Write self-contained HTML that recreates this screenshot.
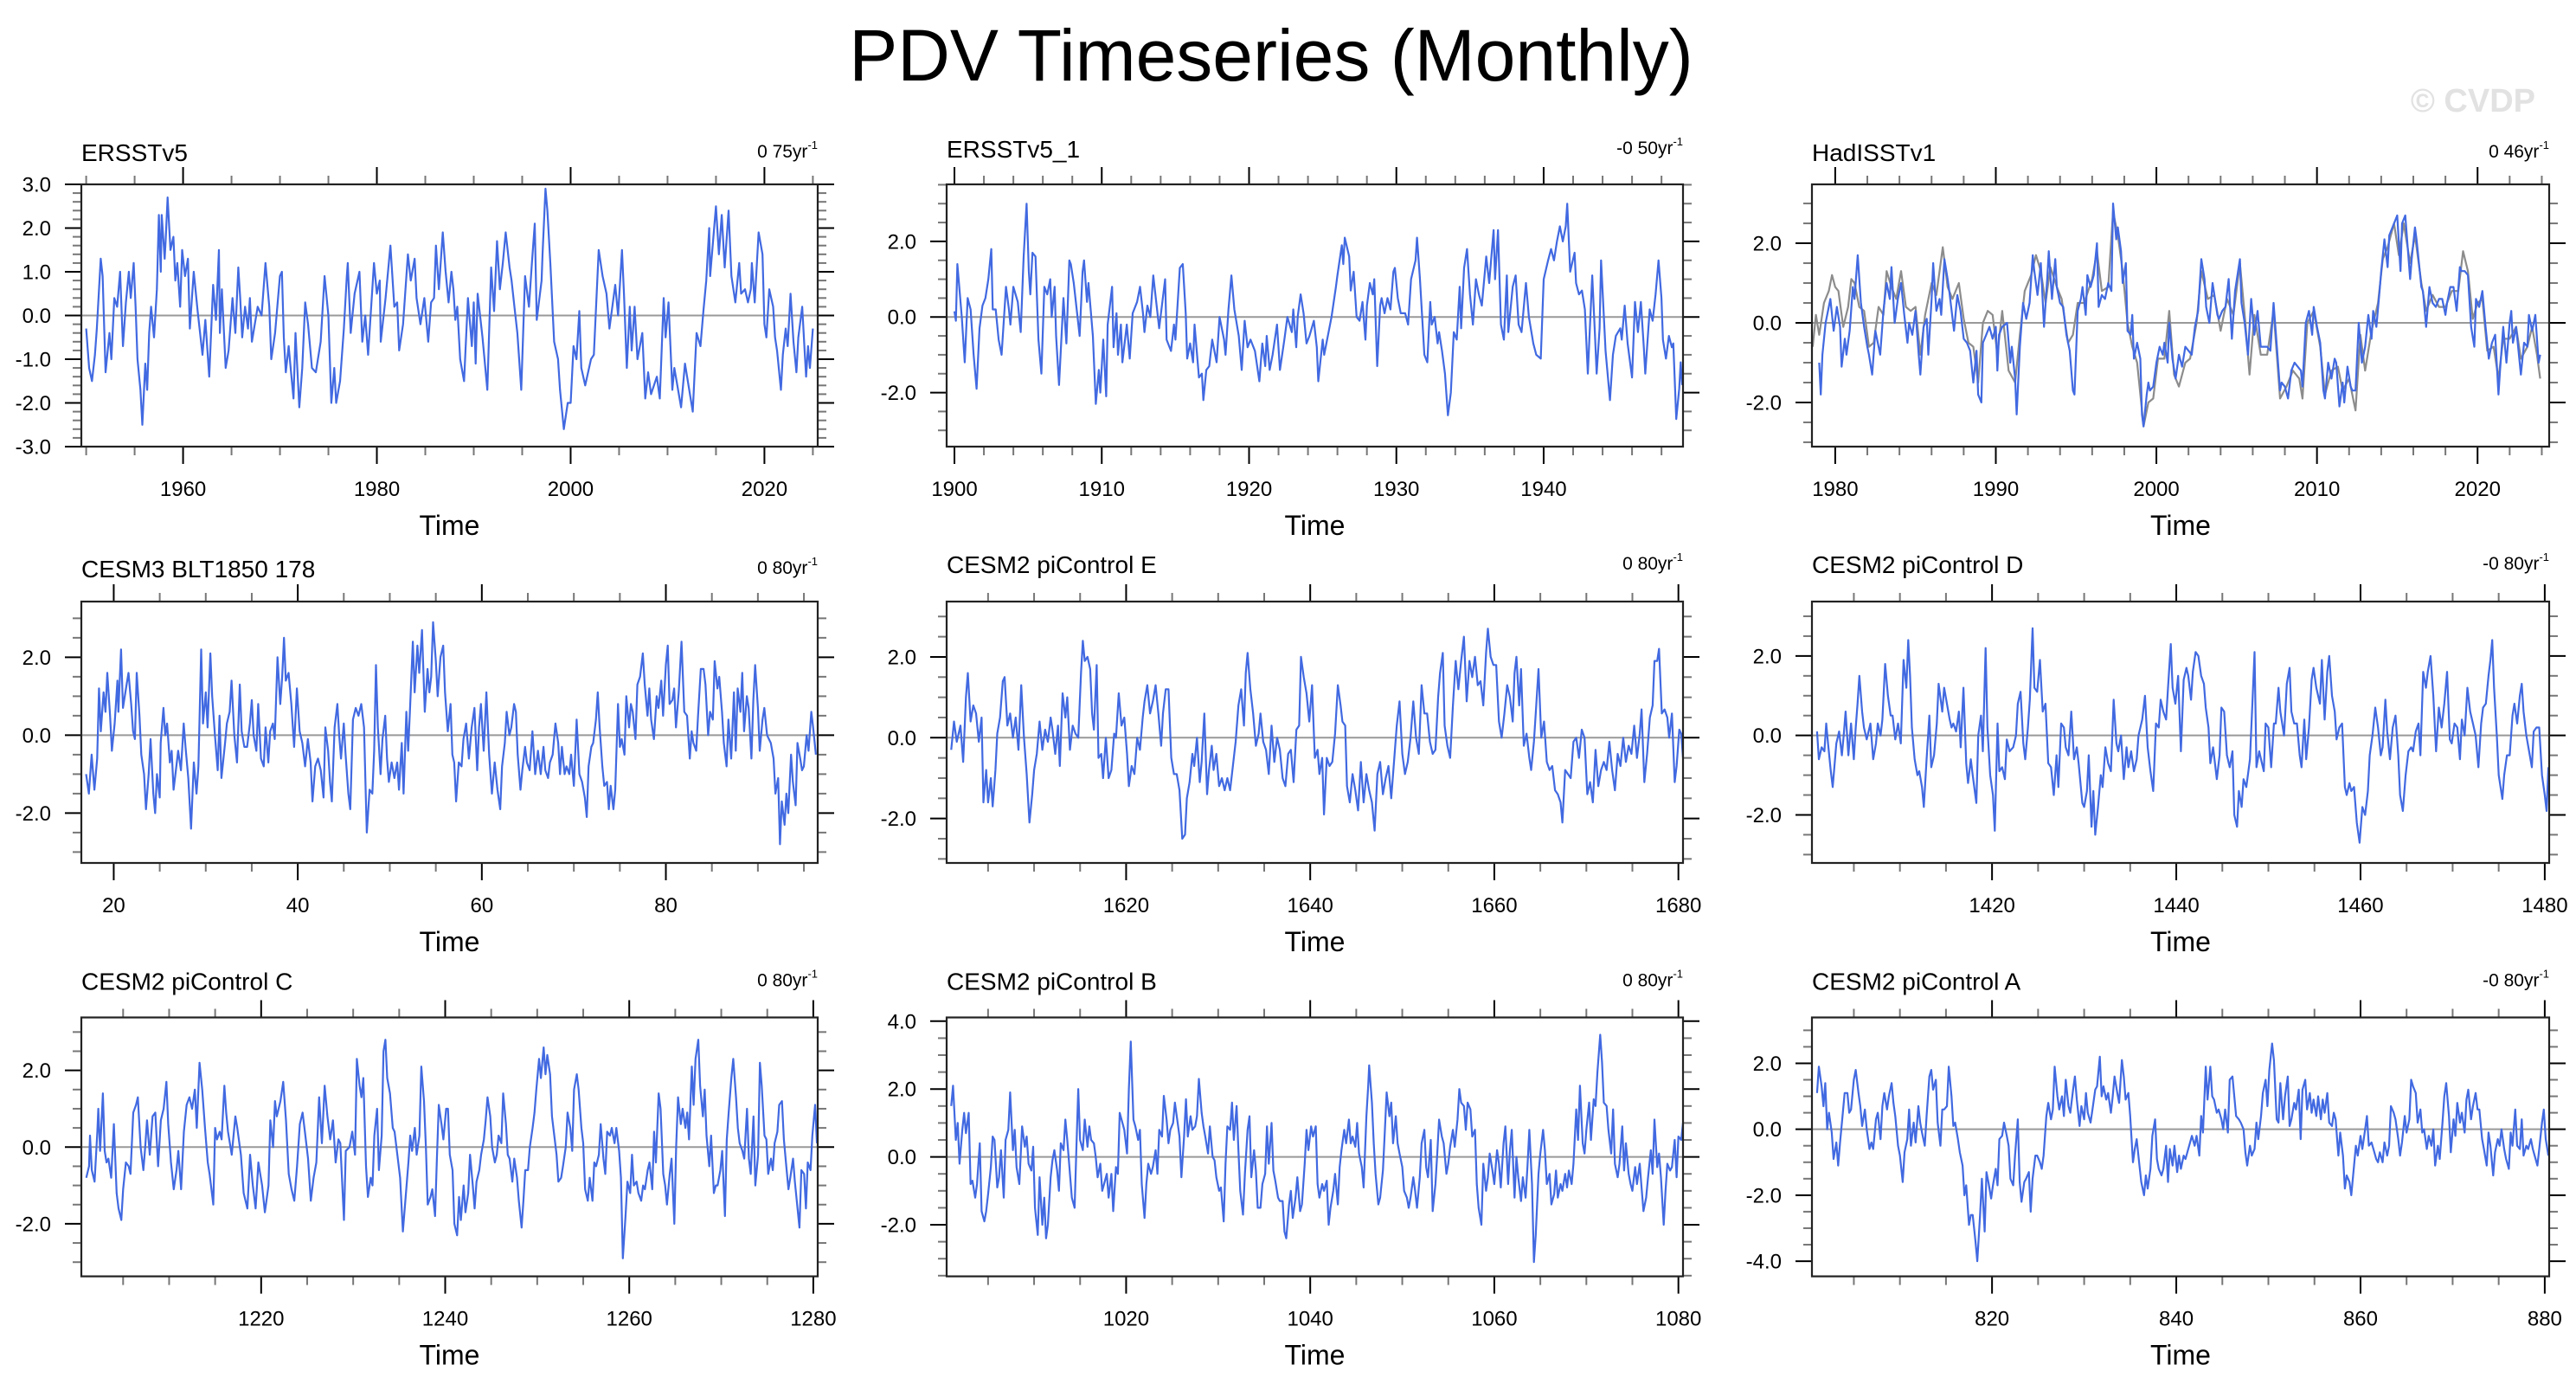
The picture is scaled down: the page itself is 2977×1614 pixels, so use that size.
<!DOCTYPE html>
<html><head><meta charset="utf-8"><title>PDV Timeseries (Monthly)</title>
<style>
html,body{margin:0;padding:0;background:#fff;}
svg{display:block;font-family:"Liberation Sans",Arial,sans-serif;}
</style></head>
<body>
<svg id="fig" width="2977" height="1614" viewBox="0 0 2977 1614" xmlns="http://www.w3.org/2000/svg">
<rect x="0" y="0" width="2977" height="1614" fill="#fff"/>
<text x="1469" y="93" font-size="84" text-anchor="middle" fill="#000">PDV Timeseries (Monthly)</text>
<text x="2930" y="129" font-size="38" font-weight="bold" text-anchor="end" fill="#e2e2e2">© CVDP</text>
<g id="panels"></g>
</svg>
<script>
// ---- Panel 1: ERSSTv5 ----
const ersstTimes = [1950.0,1950.3,1950.6,1950.9,1951.1,1951.5,1951.7,1952.0,1952.4,1952.6,1952.9,1953.2,1953.5,1953.8,1954.1,1954.4,1954.6,1954.9,1955.1,1955.3,1955.6,1955.8,1956.1,1956.3,1956.5,1956.7,1957.0,1957.3,1957.5,1957.7,1957.8,1958.1,1958.2,1958.4,1958.7,1959.0,1959.2,1959.4,1959.7,1959.9,1960.2,1960.5,1960.7,1961.1,1961.5,1962.0,1962.3,1962.7,1963.1,1963.4,1963.7,1963.8,1964.0,1964.4,1964.7,1965.1,1965.4,1965.7,1965.9,1966.1,1966.4,1966.7,1966.9,1967.1,1967.7,1968.1,1968.5,1968.9,1969.1,1969.5,1970.0,1970.2,1970.4,1970.6,1970.9,1971.1,1971.4,1971.6,1972.0,1972.3,1972.6,1972.9,1973.3,1973.7,1974.2,1974.6,1975.0,1975.3,1975.6,1975.8,1976.2,1976.6,1976.9,1977.0,1977.3,1977.7,1978.2,1978.5,1978.8,1979.1,1979.7,1980.0,1980.3,1980.4,1980.9,1981.4,1981.8,1982.1,1982.3,1982.7,1983.2,1983.5,1983.9,1984.1,1984.5,1984.9,1985.3,1985.6,1985.9,1986.1,1986.4,1986.8,1987.1,1987.4,1987.7,1987.9,1988.1,1988.3,1988.6,1989.0,1989.4,1989.8,1990.0,1990.2,1990.4,1990.9,1991.4,1991.8,1992.1,1992.4,1992.7,1993.0,1993.3,1993.7,1993.9,1994.2,1994.5,1994.9,1995.3,1995.7,1996.0,1996.3,1996.5,1997.0,1997.1,1997.4,1997.6,1997.9,1998.3,1998.7,1998.9,1999.3,1999.7,2000.0,2000.3,2000.6,2000.9,2001.1,2001.5,2002.1,2002.4,2002.9,2003.3,2003.7,2004.0,2004.6,2004.9,2005.3,2005.5,2005.8,2006.1,2006.3,2006.6,2006.9,2007.4,2007.7,2008.0,2008.3,2008.9,2009.2,2009.6,2009.8,2010.1,2010.5,2010.7,2011.4,2011.8,2012.6,2013.0,2013.4,2013.7,2014.0,2014.3,2014.4,2015.0,2015.3,2015.6,2015.9,2016.3,2016.6,2017.0,2017.4,2017.6,2018.0,2018.3,2018.6,2018.7,2019.0,2019.4,2019.8,2020.0,2020.2,2020.5,2020.9,2021.1,2021.3,2021.7,2021.9,2022.2,2022.4,2022.7,2023.0,2023.3,2023.5,2023.9,2024.1,2024.3,2024.5,2024.7,2025.0];
const ersstValues = [-0.3,-1.2,-1.5,-0.9,-0.3,1.3,0.9,-1.3,-0.4,-1.0,0.4,0.2,1.0,-0.7,0.3,1.0,0.4,1.2,0.2,-1.0,-1.7,-2.5,-1.1,-1.7,-0.4,0.2,-0.5,0.6,2.3,1.0,2.3,1.3,1.7,2.7,1.5,1.8,0.8,1.2,0.2,1.5,0.9,1.3,-0.3,1.0,0.1,-0.9,-0.1,-1.4,0.7,-0.1,1.5,-0.4,0.6,-1.2,-0.8,0.4,-0.4,1.1,0.4,-0.5,0.2,-0.3,0.4,-0.6,0.2,0.0,1.2,0.2,-1.0,-0.4,0.9,1.0,-0.5,-1.3,-0.7,-1.2,-1.9,-0.4,-2.1,-1.2,0.3,-0.2,-1.2,-1.3,-0.6,0.9,0.0,-2.0,-1.2,-2.0,-1.5,-0.3,0.9,1.2,-0.4,0.5,1.0,-0.6,0.0,-0.9,1.2,0.5,0.8,-0.6,0.4,1.6,0.2,0.3,-0.8,-0.2,1.4,0.8,1.3,0.4,-0.2,0.4,-0.6,0.3,0.4,1.6,0.6,1.9,1.0,0.3,1.0,0.6,-0.1,0.2,-1.0,-1.5,0.4,-0.7,0.3,-1.1,0.5,-0.5,-1.7,1.1,0.1,1.7,0.6,1.2,1.9,1.1,0.8,0.2,-0.4,-1.7,0.9,0.2,1.2,2.1,-0.1,0.8,1.4,2.9,2.4,1.2,-0.6,-1.0,-1.7,-2.6,-2.0,-2.0,-0.7,-1.0,0.1,-1.2,-1.6,-1.0,-0.9,1.5,0.9,0.5,-0.3,0.7,0.0,1.5,0.5,-1.2,0.2,-0.8,0.2,-1.0,-0.4,-1.9,-1.3,-1.8,-1.4,-1.9,0.4,-0.5,0.3,-1.7,-1.2,-2.1,-1.1,-2.2,-0.4,-0.7,0.1,0.8,2.0,0.9,2.5,1.4,2.3,1.1,2.4,0.9,0.3,1.2,0.5,0.6,0.3,0.6,1.2,0.3,1.9,1.4,-0.2,-0.5,0.6,0.2,-0.5,-0.8,-1.7,-0.9,-0.3,-0.7,0.5,-0.6,-1.3,-0.5,0.2,-0.6,-1.4,-0.7,-1.2,-0.3];

// ---- Panel 2: ERSSTv5_1 ----
const ersst1Times = [1900.0,1900.1,1900.2,1900.5,1900.7,1900.9,1901.1,1901.3,1901.5,1901.7,1901.9,1902.1,1902.3,1902.5,1902.6,1902.8,1903.0,1903.2,1903.5,1903.7,1903.8,1904.0,1904.3,1904.5,1904.7,1904.9,1905.05,1905.15,1905.3,1905.5,1905.7,1905.9,1906.1,1906.3,1906.5,1906.6,1906.8,1906.9,1907.1,1907.4,1907.6,1907.8,1907.9,1908.1,1908.3,1908.5,1908.7,1908.8,1909.0,1909.1,1909.4,1909.6,1909.8,1909.9,1910.1,1910.3,1910.4,1910.7,1910.8,1911.0,1911.1,1911.3,1911.4,1911.7,1911.9,1912.1,1912.4,1912.6,1912.8,1912.9,1913.1,1913.3,1913.5,1913.7,1913.9,1914.3,1914.4,1914.7,1914.9,1915.0,1915.3,1915.5,1915.7,1915.8,1916.0,1916.2,1916.3,1916.6,1916.8,1916.9,1917.1,1917.3,1917.5,1917.8,1918.0,1918.3,1918.4,1918.6,1918.8,1919.0,1919.3,1919.5,1919.7,1919.9,1920.1,1920.4,1920.7,1920.9,1921.1,1921.2,1921.4,1921.6,1921.9,1922.1,1922.4,1922.6,1922.9,1923.0,1923.2,1923.3,1923.5,1923.7,1923.9,1924.1,1924.4,1924.6,1924.7,1925.0,1925.1,1925.4,1925.6,1925.9,1926.0,1926.3,1926.4,1926.5,1926.8,1926.9,1927.1,1927.3,1927.5,1927.7,1927.9,1928.0,1928.2,1928.4,1928.5,1928.7,1928.9,1929.0,1929.2,1929.4,1929.6,1929.8,1929.9,1930.1,1930.3,1930.6,1930.8,1931.0,1931.3,1931.4,1931.6,1931.9,1932.1,1932.3,1932.4,1932.6,1932.8,1932.9,1933.1,1933.3,1933.5,1933.7,1933.9,1934.1,1934.3,1934.4,1934.6,1934.8,1935.0,1935.2,1935.4,1935.6,1935.8,1936.1,1936.3,1936.6,1936.7,1936.9,1937.1,1937.3,1937.5,1937.6,1937.9,1938.1,1938.3,1938.5,1938.8,1939.0,1939.3,1939.5,1939.8,1940.0,1940.3,1940.5,1940.7,1940.9,1941.1,1941.3,1941.5,1941.6,1941.8,1942.1,1942.2,1942.4,1942.6,1942.8,1943.0,1943.3,1943.5,1943.6,1943.8,1943.9,1944.2,1944.5,1944.7,1944.9,1945.2,1945.3,1945.5,1945.7,1946.0,1946.2,1946.4,1946.6,1946.8,1946.9,1947.2,1947.4,1947.6,1947.8,1948.0,1948.1,1948.3,1948.5,1948.7,1948.8,1949.0,1949.2,1949.3,1949.4];
const ersst1Values = [0.15,-0.1,1.4,0.0,-1.2,0.5,0.2,-1.0,-1.9,-0.3,0.3,0.5,1.0,1.8,0.2,0.2,-0.6,-1.0,0.8,0.2,-0.2,0.8,0.4,-0.4,1.6,3.0,1.2,0.6,1.7,1.6,-0.6,-1.5,0.8,0.6,1.0,0.0,0.8,-0.5,-1.8,0.5,-0.7,1.5,1.4,0.9,0.2,-0.5,1.2,1.5,0.4,0.9,-0.5,-2.3,-1.4,-2.0,-0.6,-2.1,-0.2,0.8,-0.8,0.1,-1.0,-0.2,-1.2,-0.2,-1.1,0.1,0.4,0.8,0.1,-0.4,0.3,0.0,1.1,0.4,-0.3,1.0,-0.6,-0.9,-0.2,-0.6,1.3,1.4,0.1,-1.1,-0.7,-1.2,-0.2,-1.6,-1.5,-2.2,-1.4,-1.3,-0.6,-1.2,0.0,-0.6,-1.0,0.2,1.1,0.2,-0.5,-1.4,-0.1,-0.8,-0.6,-0.9,-1.7,-0.7,-1.3,-0.5,-1.4,-1.0,-0.2,-1.4,-0.6,0.0,-0.4,0.2,-0.8,0.0,0.6,0.1,-0.7,-0.5,-0.1,-0.8,-1.7,-0.6,-1.0,-0.4,0.0,0.8,1.1,1.9,1.4,2.1,1.6,0.7,1.2,0.0,-0.1,0.4,-0.6,0.3,0.9,0.6,1.0,-1.3,0.3,0.5,0.1,0.5,0.2,1.2,1.3,0.5,0.1,0.1,-0.2,1.0,1.5,2.1,1.0,-1.0,-1.2,0.4,-0.2,0.0,-0.7,-0.4,-0.9,-1.5,-2.6,-2.0,-0.4,-0.6,0.8,-0.3,1.3,1.8,0.6,-0.2,1.0,0.6,0.3,1.6,0.9,2.3,1.0,2.3,-0.2,-0.6,1.1,-0.4,0.8,1.1,-0.2,-0.4,0.9,0.0,-0.7,-1.0,-1.1,1.0,1.5,1.8,1.5,2.0,2.4,2.0,2.4,3.0,1.2,1.7,0.9,0.6,0.7,0.2,-1.5,1.1,-0.6,-1.5,-0.3,1.5,-0.9,-2.2,-1.0,-0.5,-0.3,-0.6,0.3,-0.7,-1.6,0.4,-0.4,0.4,-0.8,-1.5,0.2,-0.1,0.6,1.5,0.5,-0.6,-1.1,-0.5,-0.8,-0.7,-2.7,-1.9,-1.2,-1.8];

// ---- Panel 3: HadISSTv1 (blue) and reference (gray) ----
const hadTimes = [1979.0,1979.1,1979.2,1979.4,1979.7,1979.9,1980.1,1980.3,1980.4,1980.6,1980.7,1980.9,1981.1,1981.2,1981.4,1981.6,1981.8,1982.0,1982.1,1982.3,1982.5,1982.8,1983.0,1983.2,1983.4,1983.5,1983.7,1983.9,1984.1,1984.3,1984.5,1984.6,1984.8,1985.0,1985.2,1985.3,1985.5,1985.7,1985.8,1986.0,1986.1,1986.3,1986.5,1986.6,1986.8,1987.0,1987.1,1987.4,1987.6,1987.8,1988.0,1988.2,1988.4,1988.6,1988.8,1988.9,1989.1,1989.2,1989.4,1989.6,1989.8,1990.0,1990.1,1990.2,1990.4,1990.7,1990.9,1991.0,1991.2,1991.3,1991.5,1991.7,1991.9,1992.1,1992.3,1992.4,1992.6,1992.8,1993.0,1993.2,1993.3,1993.5,1993.7,1993.8,1994.0,1994.2,1994.4,1994.6,1994.8,1994.9,1995.1,1995.3,1995.4,1995.6,1995.7,1995.9,1996.1,1996.3,1996.4,1996.6,1996.8,1997.0,1997.2,1997.3,1997.5,1997.6,1997.8,1997.9,1998.1,1998.2,1998.4,1998.5,1998.6,1998.8,1999.0,1999.1,1999.2,1999.4,1999.5,1999.6,1999.8,2000.0,2000.2,2000.4,2000.5,2000.7,2000.8,2001.0,2001.2,2001.4,2001.6,2001.8,2002.0,2002.2,2002.4,2002.6,2002.8,2003.0,2003.1,2003.3,2003.5,2003.8,2003.9,2004.1,2004.3,2004.5,2004.7,2004.9,2005.2,2005.3,2005.5,2005.7,2005.9,2006.1,2006.3,2006.5,2006.7,2006.9,2007.1,2007.3,2007.5,2007.7,2007.8,2008.0,2008.2,2008.4,2008.6,2008.8,2009.0,2009.1,2009.3,2009.5,2009.7,2009.8,2010.0,2010.2,2010.4,2010.5,2010.7,2010.9,2011.1,2011.2,2011.4,2011.6,2011.7,2011.9,2012.1,2012.2,2012.4,2012.6,2012.8,2013.0,2013.2,2013.4,2013.5,2013.7,2013.9,2014.0,2014.2,2014.4,2014.5,2014.7,2015.0,2015.2,2015.3,2015.5,2015.8,2015.9,2016.1,2016.2,2016.5,2016.6,2016.8,2017.0,2017.2,2017.4,2017.6,2017.8,2018.0,2018.1,2018.3,2018.5,2018.7,2018.9,2019.0,2019.2,2019.4,2019.6,2019.8,2019.9,2020.1,2020.3,2020.5,2020.6,2020.7,2020.9,2021.1,2021.3,2021.4,2021.6,2021.8,2022.0,2022.1,2022.2,2022.4,2022.7,2022.9,2023.1,2023.2,2023.4,2023.6,2023.8,2023.9];
const hadValues = [-1.0,-1.8,-0.8,0.0,0.6,-0.2,0.4,-0.1,-1.1,-0.4,-0.8,-0.2,0.9,0.6,1.7,0.5,-0.1,-0.6,-0.8,-1.3,-0.2,-0.8,0.3,1.0,0.6,1.4,0.0,0.6,1.0,0.2,-0.5,0.0,-0.3,0.3,-0.8,-1.3,-0.1,0.1,-0.8,0.6,1.5,0.3,0.6,0.2,1.6,1.1,0.8,-0.2,0.7,0.3,-0.4,-0.5,-0.7,-1.5,-0.7,-1.8,-2.0,-0.5,-0.3,-0.1,-0.4,-0.1,-1.2,-0.3,-0.1,0.0,-1.0,-0.6,-1.4,-2.3,-0.6,0.5,0.1,0.5,1.7,1.3,0.7,1.5,-0.1,1.1,1.8,0.6,1.6,0.9,0.5,0.4,-0.3,-0.7,-1.7,-1.8,0.3,0.6,0.9,0.2,1.2,0.9,1.2,2.0,0.4,0.7,0.6,1.0,0.8,3.0,2.1,2.4,1.8,1.0,1.5,-0.2,-0.3,0.2,-0.9,-0.5,-0.9,-2.3,-2.6,-1.8,-1.5,-1.7,-1.6,-1.0,-0.6,-0.8,-0.5,-1.0,0.0,-0.9,-1.4,-0.8,-1.1,-0.6,-0.7,-0.8,-0.1,0.3,1.6,1.1,0.4,0.0,1.0,0.2,0.1,0.3,0.4,1.1,-0.4,0.8,1.6,0.5,0.0,-0.8,0.6,-0.3,0.3,-0.6,-0.6,-0.6,-0.7,0.5,-0.6,-1.7,-1.5,-1.6,-1.9,-1.2,-1.0,-1.1,-1.2,-1.6,0.0,0.3,-0.3,0.4,-0.1,-0.5,-1.7,-1.9,-1.0,-1.4,-0.9,-1.0,-2.1,-1.5,-2.0,-1.1,-1.6,-1.7,-1.7,0.0,-1.0,-0.6,0.2,-0.4,0.3,-0.1,0.8,1.3,2.1,1.4,2.2,2.4,2.7,1.3,2.5,2.7,1.1,1.6,2.4,2.1,0.9,0.8,-0.1,0.9,0.5,0.4,0.6,0.6,0.2,0.5,0.9,0.9,0.3,1.4,1.3,1.3,1.2,-0.1,-0.6,0.6,0.4,0.8,-0.1,-0.5,-0.9,-0.5,-0.3,-1.8,-1.2,-0.1,-1.0,0.0,0.3,-0.5,-0.1,-1.3,-0.5,-0.6,0.2,-0.2,0.2,-1.0,-0.8];
const hadRefTimes = [1978.6,1978.8,1979.0,1979.3,1979.6,1979.8,1980.0,1980.2,1980.5,1980.8,1981.0,1981.2,1981.5,1981.8,1982.1,1982.4,1982.7,1983.0,1983.2,1983.5,1983.8,1984.1,1984.4,1984.7,1985.0,1985.3,1985.6,1986.0,1986.3,1986.7,1987.0,1987.3,1987.7,1988.0,1988.3,1988.6,1988.9,1989.2,1989.5,1989.8,1990.1,1990.4,1990.8,1991.2,1991.5,1991.8,1992.2,1992.5,1992.8,1993.1,1993.4,1993.8,1994.1,1994.5,1994.8,1995.1,1995.5,1996.0,1996.3,1996.6,1997.0,1997.3,1997.6,1997.9,1998.2,1998.5,1998.8,1999.1,1999.2,1999.5,1999.8,2000.1,2000.5,2000.8,2001.1,2001.4,2001.8,2002.1,2002.5,2002.8,2003.2,2003.6,2004.0,2004.4,2004.8,2005.2,2005.5,2005.8,2006.1,2006.5,2006.9,2007.3,2007.7,2008.1,2008.5,2008.9,2009.1,2009.4,2009.8,2010.2,2010.5,2010.9,2011.3,2011.6,2012.0,2012.3,2012.4,2012.7,2013.0,2013.4,2013.8,2014.1,2014.4,2014.8,2015.1,2015.4,2015.8,2016.1,2016.5,2016.8,2017.2,2017.6,2018.0,2018.4,2018.8,2019.1,2019.4,2019.7,2020.0,2020.3,2020.6,2021.0,2021.3,2021.6,2022.0,2022.4,2022.7,2023.1,2023.4,2023.7,2023.9];
const hadRefValues = [-0.6,0.2,-0.3,0.5,0.8,1.2,0.9,0.8,-0.1,0.4,1.1,1.0,0.4,0.3,-0.6,-0.5,0.4,0.2,1.3,0.9,0.6,1.3,0.4,0.3,0.4,-0.8,0.2,1.0,0.7,1.9,0.9,0.6,1.0,0.1,-0.5,-0.6,-1.5,0.0,0.3,0.2,-0.8,0.3,-1.2,-1.5,-0.3,0.8,1.2,1.7,1.3,0.5,1.4,0.9,0.6,-0.5,-0.3,0.5,0.5,1.1,1.8,0.8,0.9,2.8,2.2,1.3,0.0,-0.6,-1.0,-2.2,-2.6,-2.0,-1.9,-0.9,-0.9,0.3,-1.3,-1.6,-1.0,-0.9,0.0,1.3,0.6,0.7,-0.2,0.6,0.2,1.5,0.2,-1.3,0.2,-0.8,-0.8,0.3,-1.9,-1.6,-1.2,-1.4,-1.9,0.0,0.3,-0.6,-1.8,-1.2,-1.1,-1.7,-1.4,-2.0,-2.2,-0.3,-1.2,-0.2,0.5,1.6,1.9,2.5,1.7,2.5,1.5,2.2,1.0,0.3,0.7,0.4,0.4,0.8,0.8,1.8,1.3,0.1,0.5,0.6,-0.7,-0.6,-1.4,-0.4,-0.4,-0.1,-0.9,-0.6,-0.1,-0.8,-1.4];

// ---- Panel 4: CESM3 BLT1850 178 ----
const blt178Times = [17.0,17.3,17.6,17.9,18.2,18.4,18.6,18.9,19.1,19.3,19.6,19.8,20.1,20.4,20.5,20.8,21.0,21.4,21.6,21.9,22.1,22.3,22.5,22.8,23.0,23.3,23.5,23.8,24.0,24.3,24.5,24.7,25.0,25.1,25.4,25.6,25.8,26.1,26.3,26.5,26.8,27.0,27.3,27.6,27.8,28.1,28.4,28.7,29.0,29.2,29.5,29.7,30.0,30.2,30.5,30.7,31.0,31.3,31.5,31.7,32.1,32.3,32.6,32.8,33.1,33.4,33.7,33.9,34.2,34.5,34.8,35.0,35.2,35.5,35.7,36.0,36.3,36.5,36.8,37.0,37.3,37.5,37.8,38.1,38.3,38.5,38.7,39.0,39.3,39.6,39.9,40.2,40.5,40.8,41.1,41.4,41.6,41.9,42.2,42.5,42.8,43.0,43.3,43.5,43.7,44.0,44.3,44.5,44.7,45.0,45.2,45.5,45.7,46.0,46.3,46.6,46.9,47.2,47.4,47.5,47.8,48.1,48.3,48.5,48.7,49.0,49.2,49.5,49.7,49.9,50.2,50.5,50.8,51.0,51.3,51.5,51.8,52.0,52.2,52.5,52.7,53.0,53.2,53.5,53.8,54.1,54.3,54.5,54.7,55.0,55.2,55.5,55.8,56.0,56.3,56.6,56.8,57.0,57.2,57.5,57.8,58.0,58.3,58.6,58.9,59.2,59.5,59.7,59.9,60.2,60.5,60.8,61.1,61.4,61.7,62.0,62.2,62.5,62.7,63.0,63.2,63.5,63.7,63.9,64.2,64.4,64.7,64.9,65.2,65.5,65.8,66.1,66.4,66.7,66.9,67.2,67.4,67.7,68.0,68.3,68.5,68.7,69.0,69.2,69.5,69.7,70.0,70.3,70.6,70.9,71.2,71.4,71.6,71.9,72.1,72.4,72.6,72.8,73.1,73.3,73.6,73.8,74.0,74.3,74.5,74.8,75.0,75.2,75.5,75.7,76.0,76.2,76.4,76.7,76.9,77.2,77.5,77.7,78.0,78.2,78.4,78.7,79.0,79.2,79.5,79.7,80.0,80.2,80.4,80.7,80.9,81.1,81.4,81.7,82.0,82.3,82.6,82.8,83.0,83.3,83.5,83.8,84.1,84.3,84.6,84.8,85.1,85.3,85.6,85.8,86.1,86.3,86.6,86.8,87.1,87.4,87.6,87.8,88.1,88.3,88.5,88.8,89.0,89.3,89.5,89.7,90.0,90.2,90.5,90.7,91.0,91.2,91.4,91.7,91.9,92.2,92.4,92.6,92.9,93.1,93.3,93.6,93.8,94.1,94.3,94.6,94.8,95.0,95.3,95.5,95.8,96.0,96.3];
const blt178Values = [-1.0,-1.5,-0.5,-1.4,-0.6,1.2,0.1,1.1,0.6,1.6,0.5,-0.4,0.3,1.4,0.6,2.2,0.7,1.3,1.6,0.8,0.1,-0.1,1.6,0.5,-0.5,-1.0,-1.9,-1.0,-0.1,-1.5,-2.0,-1.0,-1.6,-0.2,0.7,0.0,0.3,-0.7,-0.4,-1.4,-0.8,-0.4,-0.9,0.3,-0.3,-1.1,-2.4,-0.7,-1.5,-0.8,2.2,0.3,1.1,0.2,2.1,1.0,0.0,-0.9,0.5,-1.1,-0.2,0.3,0.6,1.4,0.0,-0.7,1.3,0.1,-0.3,-0.3,0.3,0.9,0.0,-0.4,0.8,-0.6,-0.8,0.2,-0.7,0.1,0.3,-0.1,2.0,0.8,1.5,2.5,1.4,1.6,0.8,-0.3,1.2,0.1,-0.2,-0.8,-0.1,-0.7,-1.7,-0.8,-0.6,-0.9,-1.6,0.2,-0.4,-1.2,-1.7,0.2,0.8,0.0,-0.6,0.3,-0.5,-1.5,-1.9,0.4,0.7,0.5,0.8,0.2,-1.6,-2.5,-1.4,-1.5,-0.4,1.8,0.2,-1.0,-0.1,0.5,-0.6,-1.2,-0.7,-1.1,-0.7,-1.4,-0.2,-1.5,0.6,-0.4,0.7,2.4,1.1,2.3,1.6,2.7,0.6,1.7,1.1,1.5,2.9,1.9,1.0,2.0,2.3,1.1,0.1,0.8,-0.5,-0.7,-1.7,-0.7,-0.8,-0.1,0.3,-0.6,0.2,0.7,-0.9,0.2,0.8,-0.4,1.1,-0.5,-1.5,-0.7,-1.4,-1.9,-0.8,-0.2,0.6,0.0,0.2,0.8,0.6,-0.5,-1.4,-0.9,-0.3,-0.7,-0.9,0.1,-1.0,-0.4,-1.0,-0.3,-0.9,-1.1,-0.7,-0.5,0.3,-0.2,-1.0,-0.3,-1.0,-0.8,-1.0,-0.5,-1.3,0.4,-1.0,-1.2,-1.6,-2.1,-0.8,-0.3,-0.2,0.4,1.1,0.2,-0.8,-1.3,-1.2,-1.9,-1.3,-1.9,-1.4,0.8,-0.3,-0.1,-0.5,1.0,0.2,0.8,0.6,-0.1,1.3,1.5,2.1,1.3,0.5,1.2,0.4,-0.1,1.0,0.7,1.4,0.5,1.8,2.3,0.8,0.9,1.2,0.2,1.1,2.4,0.6,0.5,-0.6,0.1,-0.2,-0.4,0.5,1.7,1.7,1.3,0.0,0.6,0.4,1.9,1.2,1.5,0.6,-0.2,-0.8,0.4,-0.6,1.1,-0.4,1.2,0.6,1.6,0.1,1.0,0.7,-0.6,0.9,1.8,0.7,-0.4,0.4,0.7,0.0,-0.1,-0.2,-0.6,-1.5,-1.1,-2.8,-1.7,-2.3,-1.5,-2.0,-0.5,-1.2,-1.8,-0.2,-0.6,-0.9,-0.8,0.0,-0.4,0.6,0.2,-0.5];

// ---- Panel 5: CESM2 piControl E ----
const picETimes = [1601.0,1601.3,1601.6,1602.0,1602.3,1602.6,1602.8,1603.1,1603.4,1603.7,1604.0,1604.3,1604.5,1604.8,1605.0,1605.3,1605.5,1605.8,1606.0,1606.3,1606.6,1606.8,1607.1,1607.4,1607.7,1608.0,1608.3,1608.6,1608.9,1609.2,1609.5,1609.8,1610.0,1610.3,1610.6,1610.9,1611.2,1611.5,1611.8,1612.0,1612.3,1612.6,1612.8,1613.1,1613.4,1613.6,1613.9,1614.2,1614.5,1614.8,1615.1,1615.3,1615.5,1615.8,1616.1,1616.3,1616.5,1616.8,1617.0,1617.3,1617.5,1617.8,1618.1,1618.4,1618.7,1618.9,1619.2,1619.5,1619.8,1620.1,1620.3,1620.6,1620.9,1621.2,1621.5,1621.8,1622.0,1622.3,1622.6,1622.9,1623.2,1623.5,1623.8,1624.0,1624.3,1624.6,1624.9,1625.2,1625.5,1625.8,1626.1,1626.4,1626.6,1626.9,1627.2,1627.4,1627.7,1628.0,1628.2,1628.5,1628.8,1629.0,1629.3,1629.5,1629.8,1630.1,1630.4,1630.7,1631.0,1631.3,1631.6,1631.9,1632.2,1632.5,1632.8,1633.0,1633.2,1633.5,1633.8,1634.1,1634.4,1634.6,1634.9,1635.2,1635.5,1635.8,1636.1,1636.4,1636.7,1637.0,1637.3,1637.6,1637.9,1638.2,1638.5,1638.8,1639.0,1639.3,1639.6,1639.9,1640.2,1640.5,1640.8,1641.0,1641.3,1641.5,1641.8,1642.1,1642.4,1642.7,1643.0,1643.3,1643.5,1643.8,1644.0,1644.3,1644.6,1644.9,1645.2,1645.5,1645.8,1646.1,1646.4,1646.7,1647.0,1647.3,1647.6,1647.9,1648.2,1648.5,1648.8,1649.1,1649.4,1649.7,1650.0,1650.3,1650.6,1650.9,1651.2,1651.5,1651.8,1652.1,1652.4,1652.7,1653.0,1653.3,1653.6,1653.9,1654.1,1654.4,1654.6,1654.9,1655.2,1655.5,1655.8,1656.1,1656.4,1656.7,1657.0,1657.3,1657.6,1657.9,1658.2,1658.5,1658.8,1659.1,1659.3,1659.6,1659.9,1660.2,1660.5,1660.8,1661.1,1661.4,1661.7,1662.0,1662.2,1662.4,1662.7,1662.9,1663.2,1663.5,1663.8,1664.0,1664.3,1664.5,1664.8,1665.1,1665.4,1665.7,1666.0,1666.3,1666.6,1666.9,1667.2,1667.4,1667.7,1668.0,1668.3,1668.6,1668.9,1669.2,1669.5,1669.8,1670.1,1670.4,1670.7,1671.0,1671.3,1671.6,1671.9,1672.2,1672.5,1672.8,1673.1,1673.4,1673.7,1674.0,1674.3,1674.6,1674.9,1675.2,1675.5,1675.8,1676.0,1676.3,1676.6,1676.9,1677.2,1677.4,1677.7,1677.9,1678.2,1678.5,1678.8,1679.0,1679.3,1679.6,1679.8,1680.1,1680.3,1680.5];
const picEValues = [-0.3,0.4,-0.1,0.3,-0.6,1.0,1.6,0.4,0.8,0.6,-0.1,0.5,-1.6,-0.8,-1.6,-1.0,-1.7,-0.8,0.1,0.5,1.4,1.5,0.3,0.6,0.0,0.5,-0.3,1.3,0.0,-0.9,-2.1,-1.4,-0.8,-0.4,0.4,-0.3,0.2,-0.1,0.5,0.2,-0.4,0.3,-0.7,1.1,0.5,1.0,-0.3,0.3,0.1,0.0,1.6,2.4,1.9,2.0,1.7,0.6,0.2,1.8,-0.5,-0.4,-1.0,0.0,-1.0,-0.8,0.1,0.0,1.1,0.3,0.5,-0.4,-1.2,-0.7,-0.9,0.0,-0.3,0.5,0.9,1.3,0.6,0.9,1.3,0.6,-0.2,0.6,1.2,1.2,-0.5,-0.9,-0.9,-1.3,-2.5,-2.4,-1.5,-1.1,-0.4,-0.7,0.0,-1.1,-0.6,0.6,-1.4,-0.8,-0.2,-0.8,-0.4,-1.2,-1.0,-1.3,-1.0,-1.3,-0.7,-0.1,0.8,1.2,0.3,1.6,2.1,1.2,0.6,-0.2,0.1,0.6,-0.1,-0.3,-0.9,0.3,-0.6,0.0,-0.3,-1.0,-1.2,-0.4,-0.3,-1.1,0.2,0.3,2.0,1.5,1.1,0.4,1.3,-0.5,-0.3,-0.9,-0.5,-1.9,-0.5,-0.7,-0.6,0.1,1.3,0.8,0.4,0.3,-1.2,-1.6,-0.9,-1.3,-1.8,-0.6,-1.6,-0.9,-1.3,-1.6,-2.3,-0.9,-0.6,-1.4,-1.0,-0.7,-1.5,-0.6,0.3,0.9,-0.4,-0.9,-0.6,0.0,0.9,0.0,-0.4,1.3,0.6,0.6,-0.1,-0.4,-0.3,1.0,1.6,2.1,0.3,-0.2,-0.5,0.8,1.9,1.2,1.9,2.5,0.9,1.9,1.5,2.0,1.3,1.4,0.8,2.1,2.7,2.0,1.8,1.8,0.4,0.0,0.6,1.3,1.0,0.4,1.6,2.0,0.8,1.7,-0.2,0.1,-0.5,-0.8,-0.1,0.6,1.7,0.0,0.4,-0.6,-0.8,-0.7,-1.3,-1.4,-1.6,-2.1,-0.8,-0.9,-1.0,-0.1,0.0,-0.5,0.2,0.0,-1.4,-1.1,-1.6,-0.3,-1.2,-0.8,-0.6,-0.8,-0.1,-0.8,-1.3,-0.4,-0.7,0.0,-0.6,-0.2,-0.4,0.3,-0.5,0.1,0.7,-1.1,-0.4,0.5,0.8,1.9,1.9,2.2,0.6,0.7,0.5,0.0,0.6,-1.1,-0.7,0.2,0.1,-0.5];

// ---- Panel 6: CESM2 piControl D ----
const picDTimes = [1401.0,1401.2,1401.5,1401.8,1402.0,1402.2,1402.5,1402.7,1403.1,1403.4,1403.7,1403.9,1404.1,1404.4,1404.7,1405.0,1405.2,1405.4,1405.6,1405.9,1406.1,1406.4,1406.8,1407.1,1407.4,1407.6,1407.9,1408.1,1408.4,1408.7,1409.0,1409.2,1409.5,1409.8,1410.1,1410.4,1410.7,1410.9,1411.1,1411.3,1411.6,1411.9,1412.1,1412.4,1412.6,1412.9,1413.2,1413.4,1413.7,1414.0,1414.2,1414.6,1414.8,1415.1,1415.4,1415.6,1415.8,1416.1,1416.4,1416.6,1416.9,1417.2,1417.4,1417.7,1417.9,1418.3,1418.5,1418.8,1419.0,1419.3,1419.5,1419.8,1420.1,1420.3,1420.6,1420.8,1421.1,1421.4,1421.6,1421.9,1422.3,1422.6,1422.8,1423.1,1423.4,1423.6,1423.9,1424.1,1424.4,1424.6,1424.9,1425.2,1425.5,1425.8,1426.1,1426.4,1426.7,1427.0,1427.2,1427.5,1427.8,1428.0,1428.3,1428.6,1428.9,1429.2,1429.4,1429.8,1430.0,1430.3,1430.5,1430.8,1431.0,1431.2,1431.5,1431.8,1432.0,1432.3,1432.6,1432.9,1433.2,1433.5,1433.7,1434.0,1434.3,1434.6,1434.8,1435.1,1435.4,1435.7,1435.9,1436.3,1436.6,1436.9,1437.2,1437.5,1437.8,1438.1,1438.3,1438.6,1438.9,1439.1,1439.4,1439.6,1439.9,1440.2,1440.5,1440.8,1441.1,1441.3,1441.6,1441.8,1442.1,1442.4,1442.7,1443.0,1443.2,1443.5,1443.7,1444.0,1444.4,1444.7,1444.9,1445.2,1445.5,1445.8,1446.1,1446.3,1446.6,1446.8,1447.1,1447.3,1447.6,1448.0,1448.3,1448.5,1448.7,1449.0,1449.2,1449.5,1449.7,1450.0,1450.3,1450.6,1450.8,1451.1,1451.3,1451.7,1452.0,1452.3,1452.5,1452.8,1453.1,1453.4,1453.6,1453.9,1454.1,1454.4,1454.7,1454.9,1455.2,1455.6,1455.8,1456.1,1456.4,1456.6,1456.9,1457.2,1457.4,1457.7,1458.0,1458.3,1458.5,1458.8,1459.0,1459.3,1459.6,1459.9,1460.2,1460.5,1460.8,1461.0,1461.3,1461.6,1461.9,1462.2,1462.4,1462.7,1462.9,1463.2,1463.5,1463.8,1464.1,1464.3,1464.6,1464.9,1465.2,1465.5,1465.7,1466.0,1466.3,1466.5,1466.8,1467.1,1467.3,1467.6,1467.9,1468.2,1468.5,1468.8,1469.1,1469.4,1469.7,1469.9,1470.2,1470.5,1470.8,1471.0,1471.3,1471.6,1471.9,1472.2,1472.5,1472.8,1473.1,1473.3,1473.6,1473.9,1474.1,1474.3,1474.5,1474.8,1475.0,1475.4,1475.6,1475.9,1476.2,1476.5,1476.7,1477.0,1477.3,1477.5,1477.7,1478.0,1478.3,1478.6,1478.8,1479.1,1479.4,1479.7,1480.0,1480.2,1480.4];
const picDValues = [0.1,-0.6,-0.3,-0.4,0.3,-0.2,-0.9,-1.3,-0.2,0.1,-0.5,0.0,0.6,-0.5,0.3,-0.6,0.2,0.8,1.5,0.6,0.2,-0.1,0.3,-0.6,-0.2,0.3,0.0,0.4,1.8,1.0,0.5,0.5,-0.1,0.3,-0.2,1.9,1.2,2.4,1.5,0.2,-0.6,-1.0,-0.9,-1.3,-1.8,-0.6,0.5,-0.8,-0.5,0.3,1.3,0.6,1.2,0.8,0.4,0.2,0.3,0.1,0.6,-0.3,1.2,-0.7,-1.2,-0.6,-1.0,-1.7,0.0,0.5,-0.4,2.2,0.2,-1.0,-1.5,-2.4,0.3,-0.9,-0.8,-1.1,-0.1,-0.4,-0.3,0.0,0.8,1.1,-0.2,-0.6,0.2,0.9,2.7,1.2,1.1,1.9,0.6,0.8,-0.7,-0.8,-1.5,-0.5,-1.3,0.3,0.2,-0.3,-0.5,0.6,-0.6,-0.3,-0.7,-1.7,-1.8,-1.4,-0.5,-2.3,-1.4,-2.5,-1.8,-1.0,-1.3,-0.3,-0.7,-0.9,0.9,-0.2,-0.4,0.0,-1.1,-0.3,-0.8,-0.4,-0.9,-0.6,0.0,0.4,1.0,-0.3,-0.9,-1.4,0.3,0.2,0.9,0.6,0.4,1.2,2.3,1.2,0.8,1.5,-0.4,1.4,1.7,1.5,0.9,1.6,2.1,2.0,1.5,1.3,0.7,0.2,-0.7,-0.3,-1.1,-0.5,0.7,0.6,-0.5,-0.8,-0.4,-2.0,-2.3,-1.4,-1.8,-1.1,-1.3,-0.6,1.0,2.1,-0.8,-0.4,-0.6,-0.9,0.3,0.2,-0.8,0.3,0.3,1.2,0.6,0.0,1.3,1.7,0.6,0.3,0.3,-0.5,-0.8,0.4,-0.6,0.2,1.4,1.7,1.2,0.8,1.9,0.4,1.6,2.0,1.0,0.6,-0.1,0.2,0.3,-1.3,-1.5,-1.2,-1.4,-1.3,-2.2,-2.7,-1.8,-2.0,-1.4,-0.5,0.0,0.7,0.2,-0.5,-0.3,0.9,0.1,-0.6,0.2,0.5,-0.5,-1.5,-1.9,-1.0,-0.4,-0.3,-0.4,0.1,0.3,-0.5,1.6,1.2,1.6,2.0,1.0,-0.4,0.7,0.2,0.8,1.6,-0.1,-0.2,0.3,0.2,-0.6,0.4,0.0,1.2,0.6,0.3,0.0,-0.8,0.3,0.7,0.8,1.5,1.9,2.4,1.2,0.0,-1.0,-1.6,-1.0,-0.5,-0.5,0.5,0.8,0.3,1.0,1.3,0.6,0.0,-0.4,-0.8,0.1,0.2,0.2,-1.0,-1.5,-1.9,-0.8];

// ---- Panel 7: CESM2 piControl C ----
const picCTimes = [1201.0,1201.3,1201.4,1201.6,1201.9,1202.2,1202.3,1202.5,1202.8,1203.0,1203.2,1203.4,1203.7,1204.0,1204.3,1204.5,1204.8,1205.0,1205.3,1205.6,1205.8,1206.1,1206.4,1206.6,1206.9,1207.2,1207.4,1207.6,1207.9,1208.2,1208.5,1208.8,1209.1,1209.4,1209.7,1209.9,1210.2,1210.5,1210.8,1211.0,1211.3,1211.6,1211.9,1212.2,1212.5,1212.8,1213.0,1213.3,1213.6,1213.9,1214.2,1214.4,1214.8,1215.0,1215.2,1215.5,1215.7,1216.0,1216.2,1216.4,1216.8,1217.2,1217.4,1217.8,1218.1,1218.5,1218.8,1219.1,1219.4,1219.7,1220.1,1220.4,1220.8,1221.0,1221.3,1221.5,1221.7,1222.1,1222.4,1222.7,1223.0,1223.3,1223.6,1223.9,1224.2,1224.5,1224.8,1225.1,1225.4,1225.7,1226.0,1226.3,1226.6,1226.9,1227.2,1227.5,1227.8,1228.1,1228.4,1228.6,1229.0,1229.2,1229.6,1229.9,1230.2,1230.4,1230.7,1230.9,1231.1,1231.4,1231.6,1231.9,1232.1,1232.3,1232.6,1232.8,1233.1,1233.3,1233.5,1233.7,1234.0,1234.3,1234.5,1234.8,1235.1,1235.4,1235.7,1236.0,1236.2,1236.4,1236.7,1236.9,1237.2,1237.4,1237.7,1237.9,1238.1,1238.4,1238.6,1238.9,1239.1,1239.3,1239.6,1239.8,1240.1,1240.3,1240.5,1240.8,1241.0,1241.3,1241.5,1241.7,1242.0,1242.2,1242.5,1242.7,1243.0,1243.2,1243.4,1243.7,1243.9,1244.2,1244.4,1244.6,1244.9,1245.1,1245.4,1245.6,1245.8,1246.1,1246.3,1246.6,1246.8,1247.0,1247.3,1247.5,1247.8,1248.0,1248.3,1248.5,1248.7,1249.0,1249.2,1249.5,1249.7,1249.9,1250.2,1250.4,1250.7,1250.9,1251.1,1251.4,1251.6,1251.9,1252.1,1252.3,1252.6,1252.8,1253.1,1253.3,1253.6,1253.8,1254.0,1254.3,1254.5,1254.8,1255.0,1255.2,1255.5,1255.7,1256.0,1256.2,1256.4,1256.7,1256.9,1257.2,1257.4,1257.6,1257.9,1258.1,1258.4,1258.6,1258.9,1259.1,1259.3,1259.6,1259.8,1260.1,1260.3,1260.5,1260.8,1261.0,1261.3,1261.5,1261.7,1262.0,1262.2,1262.5,1262.7,1262.9,1263.2,1263.4,1263.7,1263.9,1264.1,1264.4,1264.6,1264.9,1265.1,1265.3,1265.6,1265.8,1266.1,1266.3,1266.5,1266.8,1267.0,1267.2,1267.5,1267.7,1268.0,1268.2,1268.4,1268.7,1268.9,1269.2,1269.4,1269.6,1269.9,1270.1,1270.4,1270.6,1270.8,1271.1,1271.3,1271.6,1271.8,1272.0,1272.3,1272.5,1272.8,1273.0,1273.2,1273.5,1273.7,1274.0,1274.2,1274.4,1274.7,1274.9,1275.1,1275.4,1275.6,1275.8,1276.1,1276.3,1276.6,1276.8,1277.1,1277.3,1277.5,1277.8,1278.0,1278.2,1278.5,1278.7,1279.0,1279.2,1279.4,1279.7,1279.9,1280.2,1280.4];
const picCValues = [-0.8,-0.5,0.3,-0.6,-0.9,0.4,1.0,-0.1,1.4,-0.1,-0.4,-0.3,-0.8,0.6,-1.2,-1.6,-1.9,-1.1,-0.4,-0.5,-0.7,0.9,1.1,1.3,0.0,-0.6,0.0,0.7,-0.2,0.8,0.9,-0.5,0.7,1.0,1.7,0.6,-0.4,-1.1,-0.6,-0.1,-1.1,0.4,1.1,1.3,1.0,1.5,0.5,2.2,1.5,0.5,-0.4,-0.7,-1.5,0.5,0.2,0.4,0.2,1.6,0.9,0.4,-0.2,0.8,0.5,-0.2,-1.2,-1.6,-0.2,-1.0,-1.6,-0.4,-1.0,-1.7,-1.0,0.7,0.0,1.2,0.8,1.2,1.7,0.7,-0.7,-1.1,-1.4,-0.5,0.6,0.9,0.3,-0.3,-1.4,-0.8,-0.4,1.3,0.1,1.6,0.8,0.2,0.7,-0.4,0.2,0.1,-1.9,-0.1,0.0,0.4,-0.2,2.3,1.6,1.3,1.8,-0.5,-1.3,-0.8,-1.0,0.3,1.0,-0.6,0.3,2.5,2.8,1.8,1.4,0.5,0.4,-0.2,-0.8,-2.2,-1.3,-0.4,0.3,-0.1,0.5,-0.2,0.3,2.1,1.2,0.0,-1.5,-1.3,-1.1,-1.8,-0.3,1.1,0.6,0.2,1.0,1.0,-0.2,-0.6,-2.0,-2.3,-1.3,-1.9,-1.0,-1.7,-1.2,-0.2,-1.0,-1.6,-0.9,-0.6,-0.2,0.2,0.7,1.3,0.8,0.0,-0.4,-0.2,0.3,0.1,1.4,0.6,-0.2,-0.3,-0.9,-0.3,-0.8,-1.4,-2.1,-1.4,-0.6,-0.6,0.0,0.5,0.9,1.5,2.3,1.8,2.6,1.9,2.4,1.9,0.8,0.2,-0.2,-0.9,-0.8,-0.5,0.0,0.9,0.5,-0.1,1.5,1.9,1.5,0.5,0.1,-1.1,-1.4,-0.8,-1.4,-0.4,-0.5,-0.2,0.6,-0.3,-0.7,0.4,0.3,0.5,0.1,0.5,-0.1,-0.8,-2.9,-1.8,-0.9,-1.2,-0.2,-1.0,-0.9,-1.2,-1.4,-1.0,-1.1,-0.6,-0.4,-1.1,0.4,-0.4,1.4,1.0,-0.7,-1.0,-1.5,-0.7,-0.3,-2.0,0.0,1.3,0.6,1.0,0.5,0.9,0.2,2.1,1.1,2.3,2.8,1.6,0.8,1.5,0.3,-0.5,0.3,-1.2,-1.0,-1.0,-0.6,-0.1,-1.8,0.2,0.9,1.8,2.3,1.3,0.5,0.1,-0.1,-0.3,1.0,-0.3,-0.7,0.8,-1.0,-0.2,2.2,1.6,0.3,0.2,-0.7,-0.3,-0.6,0.1,0.4,1.1,1.2,0.2,-0.6,-1.1,-0.8,-0.3,-0.9,-1.4,-2.1,-0.6,-0.7,-1.6,-0.4,-0.6,0.3,1.1,0.1];

// ---- Panel 8: CESM2 piControl B ----
const picBTimes = [1001.0,1001.2,1001.5,1001.7,1001.9,1002.2,1002.4,1002.6,1002.9,1003.1,1003.3,1003.6,1003.8,1004.1,1004.3,1004.6,1004.8,1005.0,1005.3,1005.5,1005.7,1006.0,1006.2,1006.4,1006.7,1006.9,1007.2,1007.4,1007.7,1007.9,1008.1,1008.4,1008.7,1009.0,1009.2,1009.4,1009.7,1009.9,1010.1,1010.4,1010.6,1010.9,1011.1,1011.3,1011.5,1011.8,1012.0,1012.2,1012.5,1012.7,1012.9,1013.2,1013.4,1013.6,1013.9,1014.1,1014.4,1014.6,1014.8,1015.0,1015.3,1015.5,1015.8,1016.0,1016.2,1016.5,1016.7,1016.9,1017.2,1017.4,1017.7,1017.9,1018.1,1018.4,1018.6,1018.9,1019.1,1019.3,1019.6,1019.8,1020.1,1020.3,1020.5,1020.8,1021.0,1021.3,1021.5,1021.7,1022.0,1022.2,1022.4,1022.7,1022.9,1023.2,1023.4,1023.6,1023.9,1024.1,1024.4,1024.6,1024.8,1025.1,1025.3,1025.6,1025.8,1026.0,1026.3,1026.5,1026.7,1027.0,1027.2,1027.5,1027.7,1027.9,1028.2,1028.4,1028.6,1028.9,1029.1,1029.4,1029.6,1029.8,1030.1,1030.3,1030.6,1030.8,1031.0,1031.3,1031.5,1031.7,1032.0,1032.2,1032.4,1032.7,1032.9,1033.2,1033.4,1033.6,1033.9,1034.1,1034.3,1034.6,1034.8,1035.1,1035.3,1035.5,1035.8,1036.0,1036.2,1036.5,1036.7,1037.0,1037.2,1037.4,1037.7,1037.9,1038.1,1038.4,1038.6,1038.9,1039.1,1039.4,1039.6,1039.8,1040.1,1040.3,1040.6,1040.8,1041.0,1041.3,1041.5,1041.8,1042.0,1042.2,1042.5,1042.7,1043.0,1043.2,1043.4,1043.7,1043.9,1044.2,1044.4,1044.6,1044.9,1045.1,1045.3,1045.6,1045.8,1046.1,1046.3,1046.4,1046.7,1046.9,1047.1,1047.4,1047.6,1047.9,1048.1,1048.3,1048.6,1048.8,1049.0,1049.3,1049.5,1049.7,1050.0,1050.2,1050.5,1050.7,1050.9,1051.2,1051.4,1051.6,1051.9,1052.1,1052.4,1052.6,1052.8,1053.1,1053.3,1053.6,1053.8,1054.0,1054.3,1054.5,1054.8,1055.0,1055.2,1055.5,1055.7,1056.0,1056.2,1056.4,1056.7,1056.9,1057.1,1057.4,1057.6,1057.9,1058.1,1058.3,1058.6,1058.8,1059.1,1059.3,1059.5,1059.8,1060.0,1060.3,1060.5,1060.7,1061.0,1061.2,1061.5,1061.7,1061.9,1062.2,1062.4,1062.6,1062.9,1063.1,1063.4,1063.6,1063.8,1064.1,1064.3,1064.5,1064.8,1065.0,1065.3,1065.5,1065.7,1066.0,1066.2,1066.5,1066.7,1066.9,1067.2,1067.4,1067.7,1067.9,1068.1,1068.4,1068.6,1068.9,1069.1,1069.3,1069.6,1069.8,1070.0,1070.3,1070.5,1070.8,1071.0,1071.2,1071.5,1071.7,1071.9,1072.2,1072.4,1072.7,1072.9,1073.1,1073.4,1073.6,1073.9,1074.1,1074.3,1074.6,1074.8,1075.0,1075.3,1075.5,1075.8,1076.0,1076.2,1076.5,1076.7,1077.0,1077.2,1077.4,1077.7,1077.9,1078.1,1078.4,1078.6,1078.8,1079.1,1079.3,1079.6,1079.8,1080.0,1080.3,1080.5];
const picBValues = [1.5,2.1,0.5,1.0,-0.2,0.8,1.3,0.7,1.3,-0.8,-0.7,-1.2,-0.8,0.4,-1.6,-1.9,-1.6,-1.1,-0.3,0.6,0.5,-0.9,-0.6,0.2,-1.2,0.5,0.8,1.9,0.2,0.8,-0.3,-0.8,0.9,0.3,0.6,-0.2,-0.4,0.3,-1.5,-2.3,-0.6,-2.0,-1.2,-2.4,-2.0,-0.6,-0.1,0.2,-0.4,-1.0,0.4,0.2,1.1,0.5,-0.5,-1.2,-1.5,0.3,2.0,0.5,0.2,1.1,0.3,0.9,0.5,0.4,0.0,-0.6,-0.2,-1.0,-0.7,-0.5,-1.2,-0.5,-1.6,-0.3,-0.5,1.3,1.0,0.8,0.1,2.0,3.4,1.1,0.9,0.5,0.8,-0.8,-1.8,-0.8,-0.2,-0.5,-0.3,0.2,-0.5,0.8,0.6,1.8,1.1,0.4,0.8,1.0,1.6,1.0,0.6,-0.6,0.6,1.7,0.6,1.2,0.8,0.9,1.2,2.3,1.3,0.9,0.6,0.1,0.9,0.0,-0.1,-0.6,-1.0,-0.9,-1.9,-0.2,0.9,0.8,1.6,0.5,1.5,0.2,-1.0,-1.7,-0.5,0.8,1.2,-0.6,0.2,-0.4,-1.5,-1.5,-0.8,-0.5,0.9,-0.2,1.0,-0.4,-0.7,-1.2,-1.3,-1.3,-2.2,-2.4,-1.4,-1.0,-1.8,-1.2,-0.6,-1.6,-1.4,-0.2,0.8,0.2,0.9,0.6,0.9,-0.8,-1.2,-0.8,-1.0,-0.7,-2.0,-1.5,-1.0,-0.5,-1.4,-0.3,0.2,0.8,0.4,1.1,0.4,0.6,0.3,1.0,0.1,-0.3,-0.9,1.2,2.1,2.7,1.6,0.4,-0.5,-1.4,-1.2,-0.4,0.7,1.9,1.2,1.6,0.4,1.2,0.4,0.1,-0.3,-1.0,-1.2,-1.5,-1.2,-0.6,-1.0,-1.5,-0.6,0.4,0.8,-0.3,-0.6,0.5,-1.6,-0.8,0.1,1.1,0.6,0.4,-0.5,-0.2,0.3,0.8,0.3,1.1,2.0,1.6,1.5,0.8,1.6,1.4,0.6,0.8,-0.8,-1.5,-2.0,-0.2,-1.0,-0.6,0.1,-0.4,-0.8,0.2,-0.2,-0.9,0.4,0.9,-0.8,0.2,0.8,-1.2,0.0,-0.6,-1.3,-0.6,-1.2,-0.3,0.8,-0.8,-3.1,-2.3,-0.5,0.1,0.8,0.2,-0.8,-0.5,-1.4,-1.1,-0.4,-1.2,-0.8,-1.0,-0.5,-0.9,-0.4,-0.8,-0.2,1.4,0.5,2.1,0.4,0.1,0.8,1.6,0.5,1.7,1.5,2.5,3.6,2.8,1.6,1.5,0.8,0.1,1.4,-0.2,-0.6,-0.2,0.9,-0.4,0.4,-0.5,-0.8,-1.0,-0.3,-0.8,-0.2,-0.9,-1.6,-1.2,-0.6,0.2,-0.5,1.1,-0.3,0.1,-0.6,-2.0,-1.0,-0.2,-0.4,-0.3,0.5,-0.6,0.6,0.5,1.0];

// ---- Panel 9: CESM2 piControl A ----
const picATimes = [801.0,801.2,801.5,801.7,801.9,802.1,802.3,802.6,802.8,803.1,803.3,803.5,803.8,804.0,804.3,804.5,804.7,805.0,805.2,805.5,805.7,805.9,806.2,806.4,806.7,806.9,807.1,807.4,807.6,807.9,808.1,808.3,808.6,808.8,809.1,809.3,809.5,809.8,810.0,810.3,810.5,810.8,811.0,811.2,811.5,811.7,812.0,812.2,812.4,812.7,812.9,813.2,813.4,813.6,813.9,814.1,814.4,814.6,814.8,815.1,815.3,815.6,815.8,816.0,816.3,816.5,816.8,817.0,817.2,817.5,817.7,817.9,818.2,818.4,818.7,818.9,819.2,819.4,819.6,819.9,820.1,820.4,820.6,820.8,821.1,821.3,821.6,821.8,822.0,822.3,822.5,822.8,823.0,823.2,823.5,823.7,824.0,824.2,824.4,824.7,824.9,825.2,825.4,825.6,825.9,826.1,826.4,826.6,826.8,827.1,827.3,827.6,827.8,828.0,828.3,828.5,828.8,829.0,829.2,829.5,829.7,830.0,830.2,830.4,830.7,830.9,831.2,831.4,831.7,831.9,832.1,832.4,832.6,832.9,833.1,833.3,833.6,833.8,834.1,834.3,834.5,834.8,835.0,835.3,835.5,835.7,836.0,836.2,836.5,836.7,836.9,837.2,837.4,837.7,837.9,838.1,838.4,838.6,838.9,839.1,839.3,839.6,839.8,840.1,840.3,840.5,840.8,841.0,841.3,841.5,841.7,842.0,842.2,842.5,842.7,842.9,843.2,843.4,843.7,843.9,844.1,844.4,844.6,844.9,845.1,845.3,845.6,845.8,846.1,846.3,846.5,846.8,847.0,847.3,847.5,847.7,848.0,848.2,848.5,848.7,848.9,849.2,849.4,849.7,849.9,850.1,850.4,850.6,850.9,851.1,851.3,851.6,851.8,852.1,852.3,852.5,852.8,853.0,853.3,853.5,853.7,854.0,854.2,854.5,854.7,854.9,855.2,855.4,855.7,855.9,856.1,856.4,856.6,856.9,857.1,857.3,857.6,857.8,858.1,858.3,858.5,858.8,859.0,859.3,859.5,859.7,860.0,860.2,860.5,860.7,860.9,861.2,861.4,861.7,861.9,862.1,862.4,862.6,862.9,863.1,863.3,863.6,863.8,864.1,864.3,864.5,864.8,865.0,865.3,865.5,865.7,866.0,866.2,866.5,866.7,866.9,867.2,867.4,867.7,867.9,868.1,868.4,868.6,868.9,869.1,869.3,869.6,869.8,870.1,870.3,870.5,870.8,871.0,871.3,871.5,871.7,872.0,872.2,872.5,872.7,872.9,873.2,873.4,873.7,873.9,874.1,874.4,874.6,874.9,875.1,875.3,875.6,875.8,876.1,876.3,876.5,876.8,877.0,877.3,877.5,877.7,878.0,878.2,878.5,878.7,878.9,879.2,879.4,879.7,879.9,880.1,880.4];
const picAValues = [1.1,1.9,1.3,0.7,1.4,0.0,0.5,-0.1,-0.9,-0.4,-1.1,-0.4,0.5,1.1,1.1,0.5,0.6,1.5,1.8,1.1,0.7,0.1,0.6,0.0,-0.6,-0.4,-0.6,0.3,0.5,-0.3,0.7,1.1,0.6,1.0,1.4,0.8,0.4,-0.5,-0.8,-1.6,-0.7,-0.3,0.6,-0.5,0.2,-0.4,0.7,0.2,-0.1,-0.5,0.4,1.6,1.8,1.2,1.5,0.2,-0.5,0.6,0.6,0.7,1.9,1.0,0.1,0.2,-0.3,-0.7,-1.1,-2.0,-1.7,-2.9,-2.6,-2.6,-3.4,-4.0,-2.6,-1.5,-3.1,-1.3,-1.6,-2.1,-1.7,-1.2,-1.7,-0.3,-0.2,0.2,-0.2,-0.5,-1.5,-1.7,-0.8,0.3,-1.6,-2.2,-1.6,-1.5,-1.3,-2.5,-1.5,-0.8,-0.8,-1.0,-1.2,-0.8,0.4,0.8,0.3,0.6,1.9,1.0,0.6,1.0,0.4,1.5,0.7,0.5,1.2,1.6,0.9,0.1,0.7,0.3,1.1,0.5,0.2,0.6,1.2,1.3,2.2,1.0,1.3,0.9,1.1,0.5,1.0,1.6,1.1,0.8,2.1,1.6,0.9,1.1,0.4,-1.0,-0.6,-0.3,-1.1,-1.6,-2.0,-1.4,-1.8,-1.2,-0.2,0.3,-0.9,-1.2,-1.4,-1.2,-0.5,-1.6,-0.6,-1.1,-0.5,-1.3,-0.8,-1.2,-0.8,-0.9,-0.6,-0.4,-0.2,-0.5,-0.2,-0.8,0.4,-0.1,1.9,0.9,1.9,1.0,0.9,0.5,0.6,0.3,0.0,0.6,-0.1,1.5,1.6,1.0,0.4,0.3,0.2,0.0,-0.7,-1.1,-0.5,-0.8,-0.6,0.2,-0.3,0.4,1.1,1.5,0.7,1.8,2.6,2.1,0.3,0.2,1.4,0.3,1.0,1.6,0.1,0.3,0.8,0.6,1.2,-0.3,1.2,1.5,0.6,1.1,0.5,0.9,0.4,1.0,0.3,0.9,0.5,1.1,0.2,0.1,0.5,0.3,-0.8,-0.1,-0.8,-1.8,-1.4,-1.6,-2.0,-1.1,-0.5,-0.8,-0.2,-0.6,0.0,0.4,-0.5,-0.4,-0.6,-0.9,-1.0,-0.7,-1.0,-0.4,-0.8,-0.5,0.7,0.5,0.3,-0.3,-0.8,-0.4,0.4,-0.1,0.3,1.5,1.3,1.1,0.2,0.6,-0.1,0.0,-0.6,-0.2,-0.5,0.0,-1.1,-0.5,-0.9,0.2,1.0,1.4,0.4,-0.7,0.3,-0.2,0.8,0.2,0.5,-0.1,0.9,1.2,0.3,0.7,1.1,0.6,0.6,-0.3,-0.6,-1.1,-0.1,-0.5,-1.4,-0.7,-0.3,-0.5,0.0,-0.6,-0.9,-1.2,-0.1,-0.5,0.6,-0.5,-0.6,0.3,-0.8,-0.5,-0.6,-0.3,-0.6,-0.8,-1.1,-0.6,0.2,0.6,-0.3,-0.8];

// ---- Panel titles and trend labels ----
const panelTitles = ["ERSSTv5","ERSSTv5_1","HadISSTv1","CESM3 BLT1850 178","CESM2 piControl E","CESM2 piControl D","CESM2 piControl C","CESM2 piControl B","CESM2 piControl A"];
const trendLabels = ["0 75yr","-0 50yr","0 46yr","0 80yr","0 80yr","-0 80yr","0 80yr","0 80yr","-0 80yr"];

const NS = "http://www.w3.org/2000/svg";
const root = document.getElementById("panels");
function mk(tag, attrs, parent){
  const e = document.createElementNS(NS, tag);
  for (const k in attrs) e.setAttribute(k, attrs[k]);
  (parent||root).appendChild(e);
  return e;
}

// layout (pixels) per panel
const colL = [94, 1094, 2094], colR = [945, 1945, 2946];
const rowT = [213, 695, 1175.5], rowB = [516, 997, 1474.6];
const titleOff = [27,31,27,28,33,33,32,32,32];

// axis configuration per panel (data units)
const axes = [
  {x0:1949.5,x1:2025.5,y0:-3,y1:3,xMaj:20,xMin:5,xFirst:1950,yMaj:[-3,-2,-1,0,1,2,3],yMinStep:0.2},
  {x0:1899.47,x1:1949.46,y0:-3.43,y1:3.51,xMaj:10,xMin:2,xFirst:1900,yMaj:[-2,0,2],yMinStep:0.5},
  {x0:1978.55,x1:2024.46,y0:-3.11,y1:3.48,xMaj:10,xMin:2,xFirst:1980,yMaj:[-2,0,2],yMinStep:0.5},
  {x0:16.48,x1:96.5,y0:-3.28,y1:3.43,xMaj:20,xMin:5,xFirst:20,yMaj:[-2,0,2],yMinStep:0.5},
  {x0:1600.5,x1:1680.5,y0:-3.1,y1:3.37,xMaj:20,xMin:5,xFirst:1605,yMaj:[-2,0,2],yMinStep:0.5},
  {x0:1400.45,x1:1480.48,y0:-3.21,y1:3.37,xMaj:20,xMin:5,xFirst:1405,yMaj:[-2,0,2],yMinStep:0.5},
  {x0:1200.46,x1:1280.48,y0:-3.37,y1:3.38,xMaj:20,xMin:5,xFirst:1205,yMaj:[-2,0,2],yMinStep:0.5},
  {x0:1000.5,x1:1080.5,y0:-3.52,y1:4.11,xMaj:20,xMin:5,xFirst:1005,yMaj:[-2,0,2,4],yMinStep:0.5},
  {x0:800.45,x1:880.48,y0:-4.46,y1:3.39,xMaj:20,xMin:5,xFirst:805,yMaj:[-4,-2,0,2],yMinStep:0.5}
];
const seriesT = [ersstTimes, ersst1Times, hadTimes, blt178Times, picETimes, picDTimes, picCTimes, picBTimes, picATimes];
const seriesV = [ersstValues, ersst1Values, hadValues, blt178Values, picEValues, picDValues, picCValues, picBValues, picAValues];

function drawPanel(i){
  const a = axes[i];
  const L = colL[i%3], R = colR[i%3], T = rowT[Math.floor(i/3)], B = rowB[Math.floor(i/3)];
  const xs = t => L + (t - a.x0) / (a.x1 - a.x0) * (R - L);
  const ys = v => B - (v - a.y0) / (a.y1 - a.y0) * (B - T);
  const g = mk("g", {});
  
  

  // title & trend label
  const tt = mk("text", {x:L, y:T - titleOff[i], "font-size":28, fill:"#000"}, g);
  tt.textContent = panelTitles[i];
  
  
  const tr = mk("text", {x:R, y:T - titleOff[i] - 4, "font-size":21, "text-anchor":"end", fill:"#000"}, g);
  
  
  tr.appendChild(document.createTextNode(trendLabels[i]));
  const sup = document.createElementNS(NS, "tspan");
  sup.setAttribute("font-size", "13"); sup.setAttribute("dy", "-10");
  sup.textContent = "-1";
  tr.appendChild(sup);

  // y ticks (minor)
  const yStart = Math.ceil(a.y0 / a.yMinStep - 1e-6);
  for (let k = yStart; k * a.yMinStep <= a.y1 + 1e-6; k++){
    const v = k * a.yMinStep;
    const y = ys(v);
    const isMaj = a.yMaj.some(m => Math.abs(m - v) < 1e-6);
    const len = isMaj ? 19 : 10;
    const col = isMaj ? "#000" : "#777";
    const t1 = mk("line", {x1:L-len, x2:L, y1:y, y2:y, stroke:col, "stroke-width":2}, g);
    
    
    const t2 = mk("line", {x1:R, x2:R+len, y1:y, y2:y, stroke:col, "stroke-width":2}, g);
    
    
  }
  // y labels
  a.yMaj.forEach(v => {
    const lb = mk("text", {x:L-35, y:ys(v)+8.5, "font-size":24, "text-anchor":"end", fill:"#000"}, g);
    lb.textContent = v.toFixed(1);
    
    
  });
  // x ticks
  const xStart = Math.ceil(a.x0 / a.xMin);
  for (let k = xStart; k * a.xMin <= a.x1 + 1e-6; k++){
    const t = k * a.xMin;
    const x = xs(t);
    const isMaj = Math.abs(t / a.xMaj - Math.round(t / a.xMaj)) < 1e-6;
    const len = isMaj ? 20 : 10;
    const col = isMaj ? "#000" : "#777";
    const t1 = mk("line", {x1:x, x2:x, y1:T-len, y2:T, stroke:col, "stroke-width":2}, g);
    
    
    const t2 = mk("line", {x1:x, x2:x, y1:B, y2:B+len, stroke:col, "stroke-width":2}, g);
    
    
    if (isMaj){
      const lb = mk("text", {x:x, y:B+57, "font-size":24, "text-anchor":"middle", fill:"#000"}, g);
      lb.textContent = String(Math.round(t));
      
      
    }
  }
  // x axis title
  const xt = mk("text", {x:(L+R)/2, y:B+102, "font-size":32, "text-anchor":"middle", fill:"#000"}, g);
  xt.textContent = "Time";
  
  

  // clip
  const cp = mk("clipPath", {id:"clip"+i}, g);
  mk("rect", {x:L, y:T, width:R-L, height:B-T}, cp);

  // zero line
  const zl = mk("line", {x1:L, x2:R, y1:ys(0), y2:ys(0), stroke:"#999", "stroke-width":2}, g);
  
  

  // reference series (HadISST only)
  if (i === 2){
    let d = "";
    hadRefTimes.forEach((t, j) => { d += (j ? "L" : "M") + xs(t).toFixed(1) + "," + ys(hadRefValues[j]).toFixed(1); });
    const rp = mk("path", {d:d, fill:"none", stroke:"#8c8c8c", "stroke-width":2.2, "stroke-linejoin":"round", "clip-path":"url(#clip"+i+")"}, g);
    
    
  }
  // main series
  const T_ = seriesT[i], V_ = seriesV[i];
  let d = "";
  T_.forEach((t, j) => { d += (j ? "L" : "M") + xs(t).toFixed(1) + "," + ys(V_[j]).toFixed(1); });
  const p = mk("path", {d:d, fill:"none", stroke:"#4169e1", "stroke-width":2.2, "stroke-linejoin":"round", "clip-path":"url(#clip"+i+")"}, g);
  
  

  // frame
  const fr = mk("rect", {x:L, y:T, width:R-L, height:B-T, fill:"none", stroke:"#222", "stroke-width":2.2}, g);
  
  
}
for (let i = 0; i < 9; i++) drawPanel(i);
</script>
</body></html>
